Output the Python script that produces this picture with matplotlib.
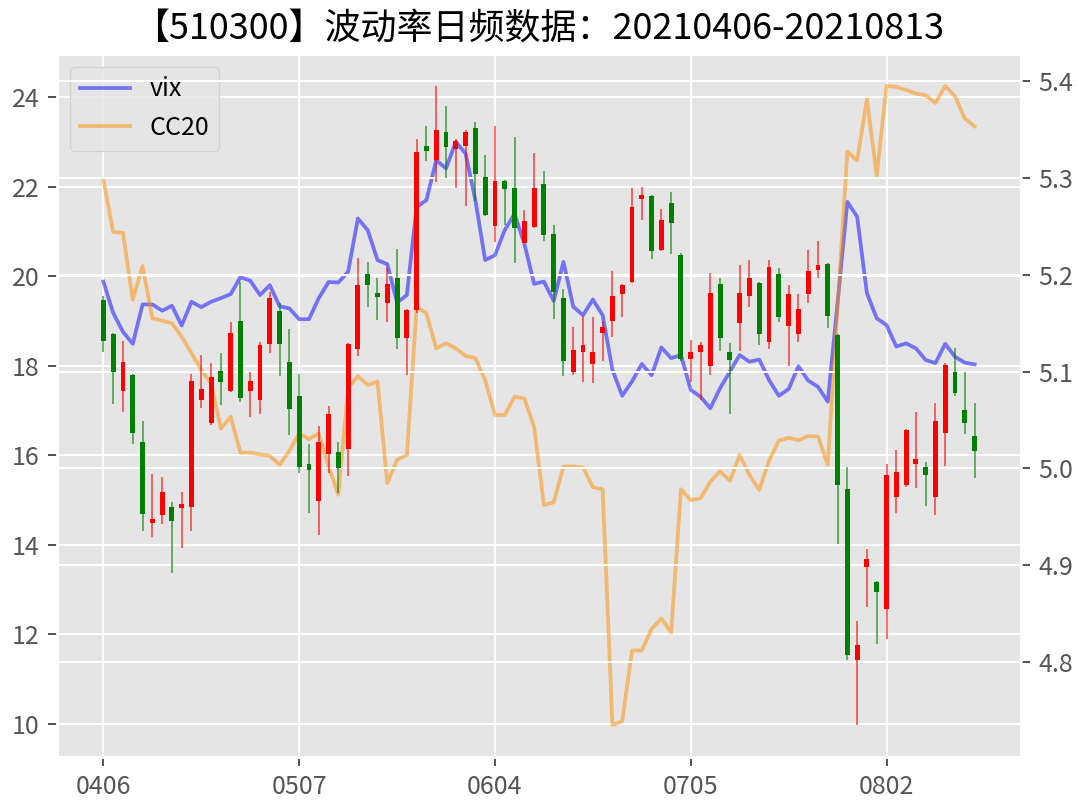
import numpy as np
import matplotlib
matplotlib.use('Agg')
import matplotlib.pyplot as plt

## trading days 20210406 - 20210813
dates = [
    '0406', '0407', '0408', '0409', '0412', '0413', '0414', '0415', '0416', '0419',
    '0420', '0421', '0422', '0423', '0426', '0427', '0428', '0429', '0430',
    '0506', '0507', '0510', '0511', '0512', '0513', '0514', '0517', '0518', '0519',
    '0520', '0521', '0524', '0525', '0526', '0527', '0528', '0531',
    '0601', '0602', '0603', '0604', '0607', '0608', '0609', '0610', '0611', '0615',
    '0616', '0617', '0618', '0621', '0622', '0623', '0624', '0625', '0628', '0629', '0630',
    '0701', '0702', '0705', '0706', '0707', '0708', '0709', '0712', '0713', '0714',
    '0715', '0716', '0719', '0720', '0721', '0722', '0723', '0726', '0727', '0728',
    '0729', '0730',
    '0802', '0803', '0804', '0805', '0806', '0809', '0810', '0811', '0812', '0813',
]

vix = [
    19.88, 19.18, 18.76, 18.49, 19.37, 19.37, 19.23, 19.34, 18.90, 19.43,
    19.31, 19.43, 19.51, 19.60, 19.98, 19.90, 19.58, 19.80, 19.33, 19.28,
    19.04, 19.04, 19.51, 19.87, 19.86, 20.10, 21.29, 21.03, 20.36, 20.27,
    19.41, 19.58, 21.55, 21.70, 22.59, 22.41, 23.00, 22.74, 21.70, 20.36,
    20.47, 21.03, 21.39, 20.73, 19.83, 19.88, 19.45, 20.32, 19.32, 19.13,
    19.48, 19.13, 17.91, 17.33, 17.65, 18.04, 17.79, 18.41, 18.17, 18.24,
    17.46, 17.31, 17.05, 17.50, 17.87, 18.24, 18.09, 18.14, 17.68, 17.33,
    17.48, 17.99, 17.67, 17.53, 17.20, 19.40, 21.66, 21.33, 19.62, 19.06,
    18.91, 18.43, 18.50, 18.39, 18.13, 18.06, 18.49, 18.20, 18.07, 18.03,
]

cc20 = [
    22.15, 20.99, 20.97, 19.47, 20.23, 19.06, 19.01, 18.95, 18.65, 18.28,
    17.91, 17.61, 16.60, 16.86, 16.06, 16.06, 16.02, 15.99, 15.79, 16.10,
    16.49, 16.36, 16.49, 15.75, 15.12, 17.50, 17.77, 17.57, 17.65, 15.38,
    15.90, 16.01, 19.32, 19.17, 18.39, 18.50, 18.39, 18.22, 18.17, 17.68,
    16.90, 16.90, 17.31, 17.27, 16.64, 14.89, 14.95, 15.75, 15.75, 15.73,
    15.29, 15.24, 9.98, 10.06, 11.64, 11.64, 12.12, 12.36, 12.04, 15.24,
    15.00, 15.04, 15.41, 15.64, 15.43, 16.01, 15.56, 15.23, 15.88, 16.33,
    16.39, 16.34, 16.43, 16.42, 15.79, 19.31, 22.78, 22.59, 23.95, 22.24,
    24.25, 24.23, 24.16, 24.08, 24.04, 23.87, 24.25, 24.02, 23.52, 23.35,
]

## 510300 daily prices
opens = [
    5.174, 5.139, 5.080, 5.096, 5.027, 4.944, 4.952, 4.960, 4.959, 4.960,
    5.071, 5.047, 5.101, 5.080, 5.152, 5.080, 5.071, 5.128, 5.162, 5.110,
    5.075, 5.004, 4.966, 5.015, 5.017, 5.020, 5.123, 5.201, 5.181, 5.171,
    5.197, 5.135, 5.164, 5.333, 5.319, 5.347, 5.330, 5.333, 5.352, 5.301,
    5.250, 5.297, 5.290, 5.233, 5.249, 5.294, 5.242, 5.176, 5.100, 5.120,
    5.108, 5.140, 5.152, 5.180, 5.192, 5.278, 5.281, 5.226, 5.274, 5.220,
    5.113, 5.120, 5.106, 5.190, 5.120, 5.150, 5.178, 5.191, 5.130, 5.201,
    5.147, 5.139, 5.180, 5.205, 5.211, 5.138, 4.979, 4.802, 4.898, 4.883,
    4.855, 4.970, 4.983, 5.004, 5.001, 4.970, 5.036, 5.100, 5.060, 5.033,
]
highs = [
    5.178, 5.140, 5.132, 5.097, 5.049, 4.994, 4.991, 4.965, 4.976, 5.097,
    5.117, 5.109, 5.119, 5.151, 5.192, 5.099, 5.131, 5.182, 5.171, 5.144,
    5.097, 5.025, 5.044, 5.064, 5.027, 5.129, 5.217, 5.213, 5.197, 5.207,
    5.227, 5.165, 5.340, 5.354, 5.395, 5.374, 5.340, 5.350, 5.358, 5.324,
    5.354, 5.298, 5.342, 5.267, 5.326, 5.307, 5.251, 5.185, 5.146, 5.157,
    5.156, 5.152, 5.204, 5.190, 5.290, 5.291, 5.282, 5.268, 5.285, 5.222,
    5.133, 5.131, 5.202, 5.197, 5.129, 5.210, 5.215, 5.192, 5.215, 5.207,
    5.189, 5.180, 5.226, 5.235, 5.212, 5.139, 5.001, 4.842, 4.917, 4.884,
    5.004, 5.019, 5.041, 5.058, 5.007, 5.067, 5.109, 5.124, 5.100, 5.067,
]
lows = [
    5.120, 5.066, 5.058, 5.025, 4.935, 4.929, 4.942, 4.892, 4.918, 4.935,
    5.062, 5.045, 5.065, 5.079, 5.068, 5.053, 5.056, 5.119, 5.095, 5.034,
    4.995, 4.954, 4.931, 4.995, 4.974, 4.992, 5.116, 5.167, 5.153, 5.151,
    5.123, 5.096, 5.160, 5.317, 5.296, 5.300, 5.290, 5.271, 5.276, 5.261,
    5.234, 5.251, 5.212, 5.233, 5.248, 5.235, 5.154, 5.095, 5.096, 5.089,
    5.088, 5.111, 5.136, 5.156, 5.191, 5.257, 5.216, 5.225, 5.221, 5.111,
    5.089, 5.071, 5.096, 5.121, 5.056, 5.121, 5.167, 5.127, 5.123, 5.151,
    5.106, 5.130, 5.171, 5.197, 5.145, 4.922, 4.802, 4.735, 4.857, 4.819,
    4.824, 4.954, 4.981, 4.980, 4.961, 4.952, 5.002, 5.075, 5.035, 4.990,
]
closes = [
    5.132, 5.099, 5.110, 5.037, 4.953, 4.948, 4.976, 4.946, 4.963, 5.090,
    5.082, 5.094, 5.089, 5.140, 5.073, 5.090, 5.127, 5.176, 5.128, 5.061,
    5.001, 4.998, 5.027, 5.056, 5.000, 5.128, 5.189, 5.189, 5.177, 5.190,
    5.135, 5.164, 5.327, 5.328, 5.349, 5.332, 5.338, 5.347, 5.304, 5.262,
    5.297, 5.289, 5.248, 5.256, 5.290, 5.241, 5.182, 5.111, 5.122, 5.127,
    5.120, 5.146, 5.178, 5.189, 5.270, 5.282, 5.225, 5.257, 5.253, 5.113,
    5.120, 5.127, 5.181, 5.135, 5.112, 5.181, 5.197, 5.139, 5.208, 5.156,
    5.180, 5.165, 5.204, 5.210, 5.157, 4.983, 4.807, 4.818, 4.906, 4.872,
    4.993, 4.996, 5.040, 5.010, 4.993, 5.049, 5.107, 5.078, 5.047, 5.018,
]


if __name__ == '__main__':

    plt.style.use('ggplot')
    plt.rcParams['font.family'] = ['Noto Sans CJK SC', 'DejaVu Sans']

    x = np.arange(len(dates))
    o, h, l, c = [np.array(a) for a in (opens, highs, lows, closes)]
    cols = np.where(c >= o, 'r', 'g')

    fig = plt.figure(figsize = [1078 / 180, 800 / 180], dpi = 180)
    fig.subplots_adjust(left = .053, right = .947, bottom = .054, top = .9325)
    ax = fig.add_subplot(111)

    ##__volatility lines
    ax.plot(x, vix, color = 'b', alpha = .5, label = 'vix')
    ax.plot(x, cc20, color = 'darkorange', alpha = .5, label = 'CC20')
    ax.legend(loc = 'upper left')

    ##__candles on right axis
    ax2 = ax.twinx()
    ax2.vlines(x, l, h, colors = cols, lw = .75, alpha = .6)
    ax2.bar(x, np.abs(c - o), bottom = np.minimum(o, c), width = .5, color = cols, linewidth = 0)
    pad = (h.max() - l.min()) * .05
    ax2.set_ylim(l.min() - pad, h.max() + pad)

    ax.set_xticks(x[::20])
    ax.set_xticklabels(dates[::20])
    ax.set_title('【510300】波动率日频数据：20210406-20210813')

    plt.savefig('out.png', dpi = 180)
